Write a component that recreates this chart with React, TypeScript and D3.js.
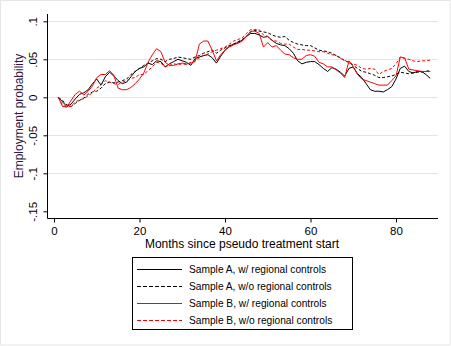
import { useEffect, useRef } from 'react';
import * as d3 from 'd3';

// monthly estimates, months 1..88
const months = d3.range(1, 89);

const sampleAWith = [
  0, -0.006, -0.012, -0.009, -0.002, 0.004, 0.006, 0.010, 0.018, 0.024,
  0.016, 0.027, 0.033, 0.028, 0.022, 0.018, 0.020, 0.027, 0.034, 0.038,
  0.040, 0.045, 0.043, 0.048, 0.047, 0.040, 0.044, 0.047, 0.050, 0.048,
  0.046, 0.042, 0.051, 0.053, 0.055, 0.056, 0.052, 0.045, 0.054, 0.062,
  0.067, 0.070, 0.072, 0.075, 0.080, 0.084, 0.084, 0.082, 0.079, 0.080,
  0.075, 0.071, 0.069, 0.068, 0.064, 0.058, 0.048, 0.044, 0.046, 0.047,
  0.047, 0.043, 0.038, 0.034, 0.039, 0.037, 0.033, 0.028, 0.038, 0.040,
  0.031, 0.026, 0.018, 0.010, 0.008, 0.008, 0.007, 0.010, 0.014, 0.024,
  0.038, 0.041, 0.034, 0.032, 0.034, 0.034, 0.030, 0.025,
];

const sampleAWithout = [
  0, -0.004, -0.010, -0.012, -0.008, -0.004, -0.001, 0.004, 0.007, 0.008,
  0.012, 0.018, 0.020, 0.019, 0.020, 0.022, 0.024, 0.030, 0.034, 0.038,
  0.042, 0.045, 0.048, 0.051, 0.050, 0.047, 0.050, 0.051, 0.053, 0.052,
  0.051, 0.050, 0.053, 0.055, 0.058, 0.060, 0.062, 0.058, 0.062, 0.065,
  0.068, 0.070, 0.073, 0.076, 0.080, 0.086, 0.088, 0.087, 0.086, 0.085,
  0.082, 0.080, 0.079, 0.080, 0.075, 0.072, 0.070, 0.069, 0.068, 0.068,
  0.065, 0.062, 0.061, 0.060, 0.058, 0.055, 0.052, 0.048, 0.046, 0.042,
  0.038, 0.034, 0.033, 0.031, 0.029, 0.026, 0.026, 0.027, 0.028, 0.030,
  0.033, 0.032, 0.031, 0.032, 0.033, 0.033, 0.034, 0.036,
];

const sampleBWith = [
  0, -0.012, -0.013, -0.004, 0.004, 0.008, 0.003, 0.008, 0.015, 0.026,
  0.030, 0.030, 0.035, 0.029, 0.012, 0.010, 0.010, 0.013, 0.018, 0.024,
  0.032, 0.046, 0.056, 0.064, 0.060, 0.046, 0.042, 0.042, 0.044, 0.045,
  0.044, 0.045, 0.047, 0.070, 0.074, 0.074, 0.062, 0.048, 0.056, 0.062,
  0.066, 0.069, 0.071, 0.074, 0.080, 0.087, 0.087, 0.084, 0.066, 0.072,
  0.066, 0.068, 0.062, 0.057, 0.056, 0.052, 0.050, 0.050, 0.055, 0.056,
  0.054, 0.046, 0.044, 0.040, 0.040, 0.036, 0.032, 0.026, 0.048, 0.040,
  0.030, 0.024, 0.022, 0.020, 0.018, 0.016, 0.016, 0.016, 0.022, 0.028,
  0.053, 0.052, 0.037, 0.036, 0.035, 0.034, 0.034, 0.034,
];

const sampleBWithout = [
  0, -0.010, -0.013, -0.012, -0.006, -0.003, -0.002, 0.002, 0.006, 0.012,
  0.016, 0.022, 0.020, 0.018, 0.017, 0.020, 0.022, 0.025, 0.026, 0.030,
  0.030, 0.035, 0.040, 0.046, 0.045, 0.040, 0.042, 0.044, 0.043, 0.044,
  0.043, 0.046, 0.048, 0.052, 0.055, 0.057, 0.060, 0.062, 0.064, 0.066,
  0.070, 0.074, 0.076, 0.078, 0.084, 0.089, 0.089, 0.089, 0.082, 0.080,
  0.075, 0.074, 0.071, 0.070, 0.070, 0.066, 0.063, 0.063, 0.062, 0.062,
  0.061, 0.060, 0.060, 0.058, 0.056, 0.055, 0.051, 0.049, 0.045, 0.044,
  0.042, 0.038, 0.037, 0.038, 0.037, 0.030, 0.034, 0.036, 0.038, 0.044,
  0.053, 0.051, 0.050, 0.048, 0.047, 0.048, 0.048, 0.049,
];

const xTicks = [0, 20, 40, 60, 80];
const yTicks = [0.1, 0.05, 0, -0.05, -0.1, -0.15];
const yTickLabels = ['.1', '.05', '0', '-.05', '-.1', '-.15'];
const gridTicks = [0.1, 0.05, 0, -0.05, -0.1];

const seriesNames = [
  'Sample A, w/ regional controls',
  'Sample A, w/o regional controls',
  'Sample B, w/ regional controls',
  'Sample B, w/o regional controls',
];
const seriesValues = [sampleAWith, sampleAWithout, sampleBWith, sampleBWithout];

const font = 'Arial, "Liberation Sans", sans-serif';

export default function App() {
  const ref = useRef<SVGSVGElement>(null);

  useEffect(() => {
    const svg = d3.select(ref.current);
    svg.selectAll('*').remove();

    const W = 451, H = 346;
    const plot = { left: 48, right: 438, top: 14, bottom: 218.5 };

    const x = d3.scaleLinear().domain([0, 80]).range([54, 396]);
    const y = d3.scaleLinear().domain([-0.15, 0.1]).range([211.3, 21.3]);

    // background + outer border
    svg.append('rect').attr('width', W).attr('height', H).attr('fill', '#fff');
    svg.append('rect')
      .attr('x', 0.5).attr('y', 0.5).attr('width', W - 1.5).attr('height', H - 1.5)
      .attr('fill', 'none').attr('stroke', '#e6e6e6');

    // grid
    svg.append('g').selectAll('line').data(gridTicks).enter().append('line')
      .attr('x1', plot.left).attr('x2', plot.right)
      .attr('y1', d => Math.round(y(d)) + 0.5).attr('y2', d => Math.round(y(d)) + 0.5)
      .attr('stroke', '#e4e4e4').attr('stroke-width', 1);

    // y axis
    const yAxis = svg.append('g').attr('transform', `translate(${plot.left - 0.5},0)`)
      .call(d3.axisLeft(y).tickValues(yTicks).tickSize(4).tickFormat((d, i) => yTickLabels[i]));
    yAxis.select('.domain').attr('d', `M0,${plot.top}V${plot.bottom}`).attr('stroke', '#000');
    yAxis.selectAll('.tick line').attr('stroke', '#000');
    yAxis.selectAll('.tick text')
      .attr('x', null).attr('dy', null)
      .attr('transform', 'translate(-11,0) rotate(-90)')
      .attr('text-anchor', 'middle')
      .attr('font-family', font).attr('font-size', 11.5).attr('fill', '#000');

    // x axis
    const xAxis = svg.append('g').attr('transform', `translate(0,${plot.bottom})`)
      .call(d3.axisBottom(x).tickValues(xTicks).tickSize(4).tickFormat(d3.format('d')));
    xAxis.select('.domain').attr('d', `M${plot.left - 0.5},0H${plot.right}`).attr('stroke', '#000');
    xAxis.selectAll('.tick line').attr('stroke', '#000');
    xAxis.selectAll('.tick text')
      .attr('y', 8).attr('dy', '0.71em')
      .attr('font-family', font).attr('font-size', 11.5).attr('fill', '#000');
    svg.selectAll('.domain').attr('stroke-width', 1);

    // axis titles
    svg.append('text')
      .attr('x', 242).attr('y', 248)
      .attr('text-anchor', 'middle')
      .attr('font-family', font).attr('font-size', 12).attr('fill', '#000')
      .text('Months since pseudo treatment start');
    svg.append('text')
      .attr('transform', 'translate(23,116) rotate(-90)')
      .attr('text-anchor', 'middle')
      .attr('font-family', font).attr('font-size', 12).attr('fill', '#30183f')
      .text('Employment probability');

    const styles = [
      { color: '#000', dash: null },
      { color: '#000', dash: '3,2' },
      { color: '#ff0000', dash: null },
      { color: '#ff0000', dash: '3,2' },
    ];

    const line = d3.line<number>()
      .x((_, i) => x(months[i]))
      .y(d => y(d));

    const lines = svg.append('g');
    seriesValues.forEach((vals, k) => {
      lines.append('path')
        .datum(vals)
        .attr('d', line)
        .attr('fill', 'none')
        .attr('stroke', styles[k].color)
        .attr('stroke-width', 1)
        .attr('stroke-dasharray', styles[k].dash);
    });

    // legend
    const lg = svg.append('g');
    lg.append('rect')
      .attr('x', 132.5).attr('y', 257.5).attr('width', 220).attr('height', 72)
      .attr('fill', '#fff').attr('stroke', '#000').attr('stroke-width', 1);
    const rowY = d3.scalePoint<string>().domain(seriesNames).range([268.5, 319.5]);
    seriesNames.forEach((name, k) => {
      const yy = Math.round(rowY(name)!) + 0.5;
      lg.append('line')
        .attr('x1', 137).attr('x2', 182).attr('y1', yy).attr('y2', yy)
        .attr('stroke', styles[k].color).attr('stroke-width', 1)
        .attr('stroke-dasharray', styles[k].dash ? '4,2' : null);
      lg.append('text')
        .attr('x', 189).attr('y', yy + 3.5)
        .attr('font-family', font).attr('font-size', 10.2).attr('fill', '#000')
        .text(name);
    });
  }, []);

  return (
    <svg
      ref={ref}
      width={451}
      height={346}
      style={{ position: 'absolute', left: 0, top: 0, display: 'block' }}
    />
  );
}
